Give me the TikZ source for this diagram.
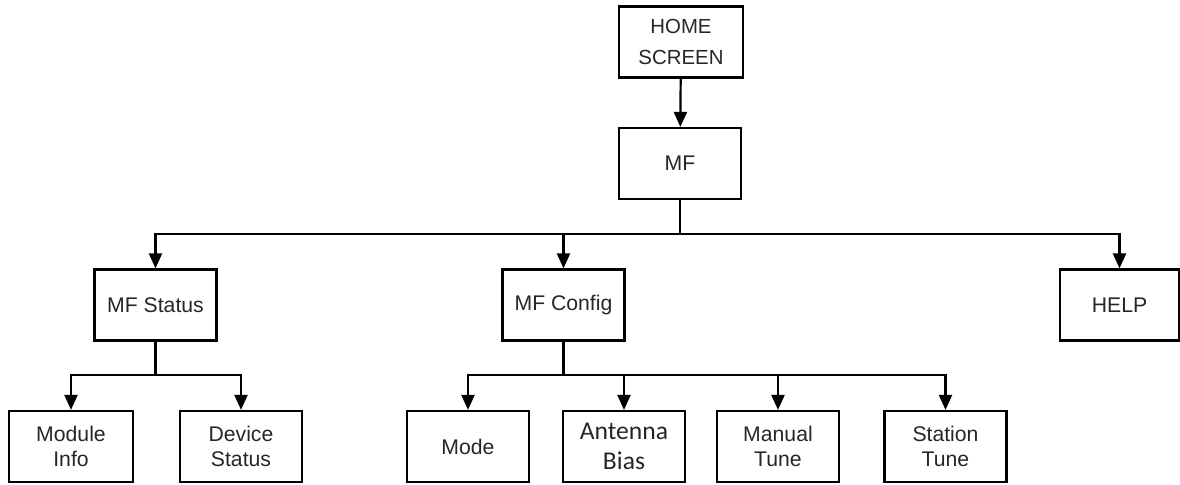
\documentclass[tikz,border=0pt]{standalone}
\usepackage{fontspec}
\setmainfont{Liberation Sans}
\newfontfamily\carlito{Carlito}
\usetikzlibrary{arrows.meta}

\begin{document}
\begin{tikzpicture}[x=0.5pt, y=-0.5pt,
  box/.style={draw, line width=1.1pt, minimum width=61pt, minimum height=35.5pt, inner sep=1pt, align=center, text=black!85, font=\fontsize{10.6}{12.6}\selectfont},
  arr/.style={line width=1.1pt, -{Triangle[length=7.5pt,width=6.5pt]}}]
\useasboundingbox (0,0) rectangle (1180,484);
%top of the menu
\node[box, minimum width=62pt, font=\fontsize{10.2}{15.5}\selectfont] (home) at (681,42) {HOME\\SCREEN};
\node[box] (mf) at (680,163.5) {MF};
%second level
\node[box] (status) at (155.5,305) {MF Status};
\node[box] (config) at (563.5,305) {MF Config};
\node[box, minimum width=59.5pt] (help) at (1119.5,305) {HELP};
%third level
\node[box, minimum width=62pt] (module) at (71,446.5) {Module\\Info};
\node[box] (device) at (241,446.5) {Device\\Status};
\node[box] (mode) at (468,446.5) {Mode};
\node[box, font=\carlito\fontsize{12.8}{15}\selectfont] (antenna) at (624,446.5) {Antenna\\Bias};
\node[box] (manual) at (778,446.5) {Manual\\Tune};
\node[box] (station) at (945.5,446.5) {Station\\Tune};
%branch lines
\coordinate (bus) at (0,234);
\coordinate (sub) at (0,375);
\draw[arr] (home) -- (mf);
\foreach \i in {status,config,help}{\draw[arr] (mf.south) -- (mf.south|-bus) -| (\i.north);}
%edges for MF Status
\foreach \i in {module,device}{\draw[arr] (status.south) -- (status.south|-sub) -| (\i.north);}
%edges for MF Config
\foreach \i in {mode,antenna,manual,station}{\draw[arr] (config.south) -- (config.south|-sub) -| (\i.north);}
\end{tikzpicture}
\end{document}
